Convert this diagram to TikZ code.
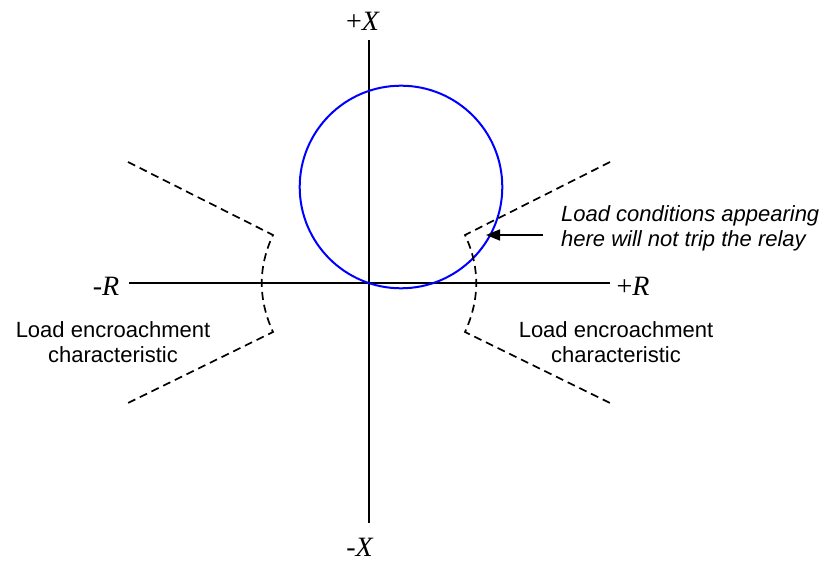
\documentclass[tikz,border=0pt]{standalone}
\usepackage{fontspec}
\setmainfont{Liberation Serif}
\setsansfont{Liberation Sans}
\usetikzlibrary{arrows.meta}
\begin{document}
\begin{tikzpicture}[x=1pt,y=-1pt,
  axis/.style={line width=1.7pt,black},
  loadline/.style={line width=1.7pt,black,dash pattern=on 8pt off 5pt},
  axlabel/.style={font=\fontsize{28}{32}\selectfont,inner sep=0pt},
  sanslabel/.style={font=\sffamily\fontsize{22}{25}\selectfont,align=center,inner sep=0pt},
  notelabel/.style={font=\sffamily\itshape\fontsize{22}{25}\selectfont,align=left,inner sep=0pt}]
\useasboundingbox (0,0) rectangle (827,561);
% axes
\coordinate (xtop) at (369,40);
\coordinate (xbot) at (369,523);
\coordinate (rleft) at (129,283);
\coordinate (rright) at (610,283);
\draw[axis] (xtop) -- (xbot);
\draw[axis] (rleft) -- (rright);
\node[axlabel] (px) at (363,21) {+\textit{X}};
\node[axlabel] (mx) at (360,547) {\textit{-X}};
\node[axlabel] (mr) at (106,286) {\textit{-R}};
\node[axlabel] (pr) at (633,286) {+\textit{R}};
% mho circle
\coordinate (cc) at (401,187);
\draw[blue,line width=2pt] (cc) circle[radius=101.3];
% load encroachment characteristics
\coordinate (lt) at (128,162);
\coordinate (lc1) at (273,235);
\coordinate (lc2) at (273,332);
\coordinate (lb) at (128,403);
\draw[loadline] (lt) -- (lc1) .. controls (258,267) and (258,299) .. (lc2) -- (lb);
\coordinate (rt) at (610,162);
\coordinate (rc1) at (465,235);
\coordinate (rc2) at (465,332);
\coordinate (rb) at (610,403);
\draw[loadline] (rt) -- (rc1) .. controls (480,267) and (480,299) .. (rc2) -- (rb);
% labels
\node[sanslabel] (leftlab) at (113,342) {Load encroachment\\characteristic};
\node[sanslabel] (rightlab) at (616,342) {Load encroachment\\characteristic};
\node[notelabel,anchor=west] (note) at (561,228) {Load conditions appearing\\here will not trip the relay};
% arrow
\coordinate (atail) at (543,235);
\coordinate (ahead) at (486,235);
\draw[line width=1.7pt,-{Triangle[length=14pt,width=11pt]}] (atail) -- (ahead);
\end{tikzpicture}
\end{document}
